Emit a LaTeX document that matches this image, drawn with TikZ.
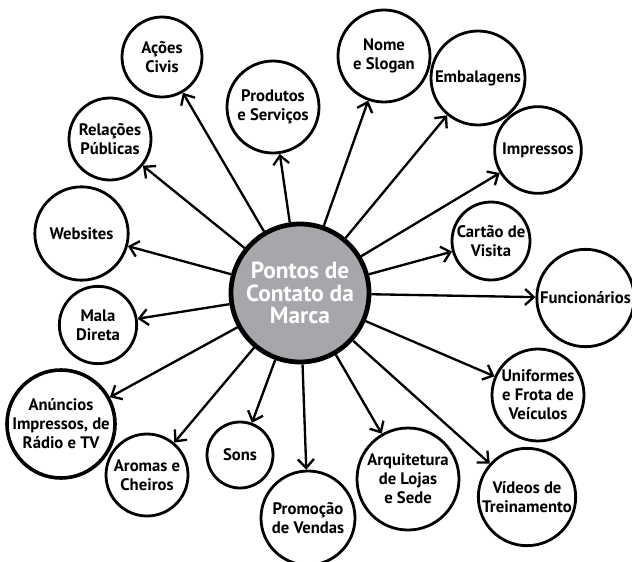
\documentclass[tikz,border=0pt]{standalone}
\usepackage{fontspec}
\setmainfont{PT Sans}
\usepackage{tikz}
\usetikzlibrary{arrows.meta}
\definecolor{ink}{HTML}{000000}
\definecolor{hubgray}{HTML}{A6A7AA}
\tikzset{
  spot/.style={draw=ink,circle,line width=2.1pt,minimum size=#1,inner sep=-12pt,align=center,font=\fontsize{12.5}{14.3}\selectfont\bfseries,text=ink},
  hub/.style={draw=ink,fill=hubgray,circle,line width=3.6pt,minimum size=#1,inner sep=-12pt,align=center,font=\fontsize{17.5}{16.8}\selectfont\bfseries,text=white},
  flow/.style={-{Straight Barb[length=6.5pt,width=12pt]},line width=1.75pt,draw=ink}
}
\begin{document}
\begin{tikzpicture}[x=0.75pt,y=-0.75pt]
    \useasboundingbox (0,0) rectangle (632,561);
    \node[hub=103.5pt] (marca) at (300,293) {Pontos de\\Contato da\\Marca};

    \node[spot=60pt] (acoes) at (162,57) {Ações\\Civis};
    \node[spot=69pt] (produtos) at (273,107) {Produtos\\e Serviços};
    \node[spot=69pt] (nome) at (384,56) {Nome\\e Slogan};
    \node[spot=70.5pt] (embalagens) at (478,78) {Embalagens};
    \node[spot=61.5pt] (relacoes) at (110,139) {Relações\\Públicas};
    \node[spot=65pt] (impressos) at (538,150) {Impressos};
    \node[spot=70pt] (websites) at (81.5,233.5) {Websites};
    \node[spot=58.5pt] (cartao) at (491,241) {Cartão de\\Visita};
    \node[spot=73pt] (funcionarios) at (585.5,298) {Funcionários};
    \node[spot=58pt] (mala) at (98,325) {Mala\\Direta};
    \node[spot=69pt] (uniformes) at (538,395) {Uniformes\\e Frota de\\Veículos};
    \node[spot=81pt,line width=2.7pt] (anuncios) at (61,424) {Anúncios\\Impressos, de\\Rádio e TV};
    \node[spot=61.5pt] (aromas) at (147,475) {Aromas e\\Cheiros};
    \node[spot=49.5pt] (sons) at (240,455) {Sons};
    \node[spot=70.5pt] (promocao) at (308,518) {Promoção\\de Vendas};
    \node[spot=76.5pt] (arquitetura) at (408,479) {Arquitetura\\de Lojas\\e Sede};
    \node[spot=73pt] (videos) at (527,497) {Vídeos de\\Treinamento};

    \draw[flow] (marca) -- (acoes);
    \draw[flow] (marca) -- (produtos);
    \draw[flow] (marca) -- (nome);
    \draw[flow] (marca) -- (embalagens);
    \draw[flow] (marca) -- (relacoes);
    \draw[flow] (marca) -- (impressos);
    \draw[flow] (marca) -- (websites);
    \draw[flow] (marca) -- (cartao);
    \draw[flow] (marca) -- (funcionarios);
    \draw[flow] (marca) -- (mala);
    \draw[flow] (marca) -- (uniformes);
    \draw[flow] (marca) -- (anuncios);
    \draw[flow] (marca) -- (aromas);
    \draw[flow] (marca) -- (sons);
    \draw[flow] (marca) -- (promocao);
    \draw[flow] (marca) -- (arquitetura);
    \draw[flow] (marca) -- (videos);
\end{tikzpicture}
\end{document}
